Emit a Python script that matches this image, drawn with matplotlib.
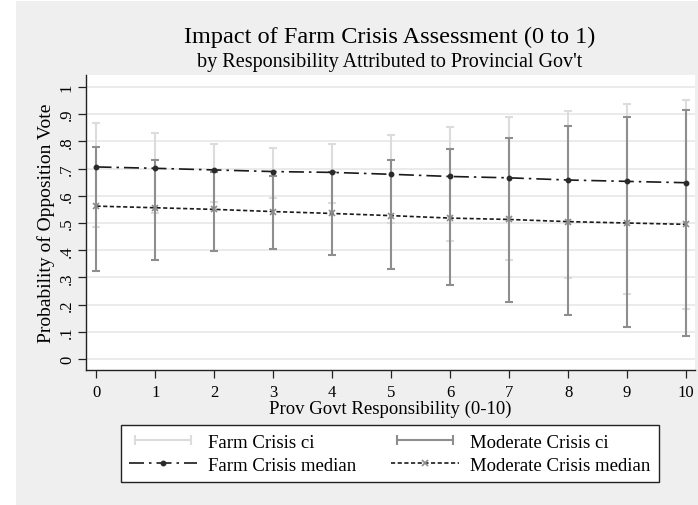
import matplotlib
matplotlib.use("Agg")
import matplotlib.pyplot as plt
from matplotlib.lines import Line2D
from matplotlib.patches import Rectangle
from matplotlib.legend_handler import HandlerLine2D

plt.rcParams['font.family'] = ['Liberation Serif', 'DejaVu Serif']

# provincial govt responsibility score
resp = [0, 1, 2, 3, 4, 5, 6, 7, 8, 9, 10]

# predicted probability of opposition vote (simulated median and ci)
farm_med = [0.706, 0.701, 0.695, 0.689, 0.686, 0.679, 0.671, 0.666, 0.658, 0.653, 0.648]
farm_lo = [0.487, 0.535, 0.578, 0.591, 0.575, 0.499, 0.434, 0.363, 0.296, 0.239, 0.183]
farm_hi = [0.867, 0.829, 0.792, 0.775, 0.789, 0.823, 0.854, 0.889, 0.913, 0.936, 0.953]

mod_med = [0.562, 0.556, 0.550, 0.542, 0.535, 0.527, 0.518, 0.513, 0.505, 0.500, 0.495]
mod_lo = [0.322, 0.364, 0.396, 0.404, 0.381, 0.330, 0.271, 0.210, 0.162, 0.117, 0.083]
mod_hi = [0.780, 0.732, 0.688, 0.671, 0.686, 0.731, 0.773, 0.814, 0.856, 0.889, 0.917]

y_ticks = [0, 0.1, 0.2, 0.3, 0.4, 0.5, 0.6, 0.7, 0.8, 0.9, 1]
y_ticklabels = ['0', '.1', '.2', '.3', '.4', '.5', '.6', '.7', '.8', '.9', '1']

light = '#dcdcdc'
dark = '#8e8e8e'
bg = '#efefef'

fig = plt.figure(figsize=(6.98, 5.06), dpi=100)
fig.patch.set_facecolor('white')
fig.patches.append(Rectangle((16 / 698, 0), 1 - 16 / 698, 1 - 2 / 506,
                             transform=fig.transFigure, facecolor=bg,
                             edgecolor='none', zorder=-10))

ax = fig.add_axes([86 / 698, 1 - 371 / 506, (695 - 86) / 698, (371 - 76) / 506])
ax.set_facecolor('white')

def ci_bars(x, lo, hi, color, z):
    mid = [(a + b) / 2 for a, b in zip(lo, hi)]
    err = [[m - a for m, a in zip(mid, lo)], [b - m for m, b in zip(mid, hi)]]
    ax.errorbar(x, mid, yerr=err, fmt='none', ecolor=color, elinewidth=1.5,
                capsize=3, capthick=1.5, zorder=z)

ci_bars(resp, farm_lo, farm_hi, light, 2)
ci_bars(resp, mod_lo, mod_hi, dark, 3)

ax.plot(resp, farm_med, color='#1a1a1a', lw=1.2, dashes=(9, 3, 1.5, 3),
        marker='o', ms=3.2, mfc='#2a2a2a', mec='#2a2a2a', zorder=4)
ax.plot(resp, mod_med, color='#1a1a1a', lw=1.2, dashes=(2.5, 1.5),
        marker='x', ms=4, mec='#8a8a8a', mew=1.2, zorder=4)

ax.set_xlim(-0.178, 10.153)
ax.set_ylim(-0.0404, 1.044)
ax.set_xticks(resp)
ax.set_yticks(y_ticks)
ax.set_yticklabels(y_ticklabels)
ax.yaxis.grid(True, color='#e6e6e6', lw=1.1)
ax.set_axisbelow(True)

for s in ['top', 'right']:
    ax.spines[s].set_visible(False)
for s in ['left', 'bottom']:
    ax.spines[s].set_color('#222222')
    ax.spines[s].set_linewidth(1.0)

ax.tick_params(axis='both', direction='out', length=6, width=0.9,
               color='#222222', labelsize=12, pad=4)
ax.tick_params(axis='y', labelrotation=90, pad=2)
for t in ax.get_yticklabels():
    t.set_va('center')

ax.set_ylabel('Probability of Opposition Vote', fontsize=14, labelpad=3)
ax.set_xlabel('Prov Govt Responsibility (0-10)', fontsize=13.5, labelpad=0)

fig.text(390 / 698, 1 - 37 / 506, 'Impact of Farm Crisis Assessment (0 to 1)',
         ha='center', va='center', fontsize=17.5)
fig.text(390 / 698, 1 - 63 / 506, "by Responsibility Attributed to Provincial Gov't",
         ha='center', va='center', fontsize=14.5)

# legend keys
h_farm_ci = Line2D([], [], color=light, lw=1.5, marker='|', ms=7, mew=1.5)
h_mod_ci = Line2D([], [], color=dark, lw=1.5, marker='|', ms=7, mew=1.5)
h_farm_med = Line2D([], [], color='#1a1a1a', lw=1.2, dashes=(9, 3, 1.5, 3),
                    marker='o', ms=3.2, mfc='#2a2a2a', mec='#2a2a2a')
h_mod_med = Line2D([], [], color='#1a1a1a', lw=1.2, dashes=(2.5, 1.5),
                   marker='x', ms=4, mec='#8a8a8a', mew=1.2)

leg = fig.legend([h_farm_ci, h_farm_med, h_mod_ci, h_mod_med],
                 ['Farm Crisis ci', 'Farm Crisis median',
                  'Moderate Crisis ci', 'Moderate Crisis median'],
                 ncol=2, loc='lower left',
                 bbox_to_anchor=(121 / 698, 1 - 483 / 506, (659 - 121) / 698, 55 / 506),
                 mode='expand', fontsize=13.5, frameon=True, fancybox=False,
                 edgecolor='#222222', facecolor='white', framealpha=1,
                 handlelength=3.6, handletextpad=0.6, borderpad=0.45,
                 labelspacing=0.3, numpoints=2, borderaxespad=0,
                 columnspacing=0.5,
                 handler_map={h_farm_med: HandlerLine2D(numpoints=1),
                              h_mod_med: HandlerLine2D(numpoints=1)})
leg.get_frame().set_linewidth(1.0)

fig.savefig('out.png', dpi=100)
